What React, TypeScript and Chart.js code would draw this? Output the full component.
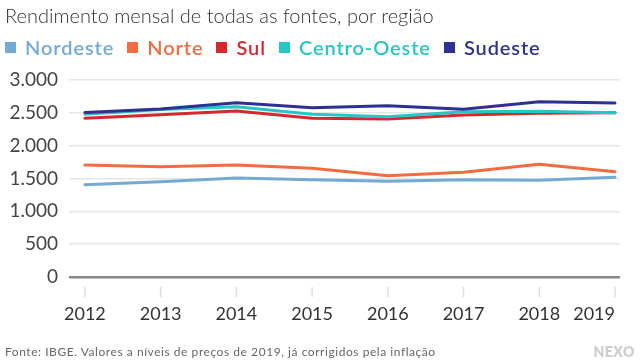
import React, { useEffect, useRef } from "react";
import { Chart, registerables } from "chart.js";

Chart.register(...registerables);

const years = [2012, 2013, 2014, 2015, 2016, 2017, 2018, 2019];
const seriesNames = ["Nordeste", "Norte", "Sul", "Centro-Oeste", "Sudeste"];
const seriesColors = ["#72aad4", "#f26c40", "#d7282f", "#26c6c6", "#2e3191"];
const nordeste = [1406, 1452, 1508, 1482, 1457, 1482, 1472, 1518];
const norte = [1706, 1680, 1706, 1655, 1543, 1594, 1716, 1604];
const sul = [2417, 2470, 2528, 2417, 2406, 2467, 2492, 2502];
const centroOeste = [2480, 2550, 2594, 2478, 2441, 2518, 2525, 2502];
const sudeste = [2505, 2558, 2655, 2578, 2609, 2553, 2670, 2650];
const seriesValues = [nordeste, norte, sul, centroOeste, sudeste];
const yTicks = [0, 500, 1000, 1500, 2000, 2500, 3000];
const yTickLabels = ["0", "500", "1.000", "1.500", "2.000", "2.500", "3.000"];

const titleText = "Rendimento mensal de todas as fontes, por região";
const footerText = "Fonte: IBGE. Valores a níveis de preços de 2019, já corrigidos pela inflação";

const FONT = "Lato, 'Open Sans', sans-serif";

const xLabelsPlugin = {
  id: "xLabels",
  afterDraw(chart: any) {
    const ctx = chart.ctx;
    const xs = chart.scales.x;
    const bottom = chart.chartArea.bottom;
    ctx.save();
    ctx.strokeStyle = "#dedede";
    ctx.lineWidth = 1.5;
    ctx.fillStyle = "#333";
    ctx.font = `18px ${FONT}`;
    ctx.textBaseline = "middle";
    years.forEach((yr, i) => {
      const x = xs.getPixelForValue(yr);
      ctx.beginPath();
      ctx.moveTo(x, bottom + 10);
      ctx.lineTo(x, bottom + 20);
      ctx.stroke();
      ctx.textAlign = i === years.length - 1 ? "right" : "center";
      ctx.fillText(String(yr), x, bottom + 37);
    });
    ctx.restore();
  },
};

export default function App() {
  const ref = useRef<HTMLCanvasElement | null>(null);

  useEffect(() => {
    if (!ref.current) return;
    const chart = new Chart(ref.current, {
      type: "line",
      data: {
        datasets: seriesNames.map((name, i) => ({
          label: name,
          data: years.map((y, j) => ({ x: y, y: seriesValues[i][j] })),
          borderColor: seriesColors[i],
          backgroundColor: seriesColors[i],
          borderWidth: 3,
          pointRadius: 0,
          tension: 0,
          order: seriesNames.length - i,
          borderCapStyle: "round",
          borderJoinStyle: "round",
        })),
      },
      options: {
        responsive: false,
        animation: false,
        layout: { padding: { top: 80, right: 20, bottom: 83, left: 0 } },
        plugins: { legend: { display: false }, tooltip: { enabled: false }, title: { display: false } },
        scales: {
          x: {
            type: "linear",
            min: 2011.79,
            max: 2019.066,
            display: false,
          },
          y: {
            min: 0,
            max: 3000,
            afterFit: (s: any) => {
              s.width = 69;
            },
            afterBuildTicks: (s: any) => {
              s.ticks = yTicks.map((v) => ({ value: v }));
            },
            border: { display: false },
            grid: {
              color: (c: any) => (c.tick && c.tick.value === 0 ? "#888888" : "#e6e6e6"),
              lineWidth: (c: any) => (c.tick && c.tick.value === 0 ? 2.5 : 1.5),
              drawTicks: false,
            },
            ticks: {
              padding: 11,
              color: "#444",
              font: { family: FONT, size: 19 },
              callback: (v: any) => yTickLabels[yTicks.indexOf(Number(v))] ?? String(v),
            },
          },
        },
      },
      plugins: [xLabelsPlugin],
    });
    return () => chart.destroy();
  }, []);

  return (
    <div style={{ position: "fixed", left: 0, top: 0, width: 640, height: 360, background: "#fff", fontFamily: FONT }}>
      <canvas ref={ref} width={640} height={360} style={{ position: "absolute", left: 0, top: 0 }} />
      <div style={{ position: "absolute", left: 5, top: 3, fontSize: 20, fontWeight: 300, color: "#333", whiteSpace: "nowrap" }}>
        {titleText}
      </div>
      <div style={{ position: "absolute", left: 5, top: 35, display: "flex", alignItems: "center", whiteSpace: "nowrap" }}>
        {seriesNames.map((n, i) => (
          <div key={n} style={{ display: "flex", alignItems: "center", marginRight: 13 }}>
            <div style={{ width: 11, height: 11, background: seriesColors[i], marginRight: 9 }} />
            <span style={{ fontSize: 20, fontWeight: 600, color: seriesColors[i], letterSpacing: 0.9 }}>{n}</span>
          </div>
        ))}
      </div>
      <div style={{ position: "absolute", left: 5, top: 344, fontSize: 12, color: "#666", whiteSpace: "nowrap", letterSpacing: 0.55 }}>
        {footerText}
      </div>
      <div style={{ position: "absolute", right: 5, top: 343, fontSize: 14, fontWeight: 800, color: "#cfcfcf", letterSpacing: 0.5 }}>
        NEXO
      </div>
    </div>
  );
}
